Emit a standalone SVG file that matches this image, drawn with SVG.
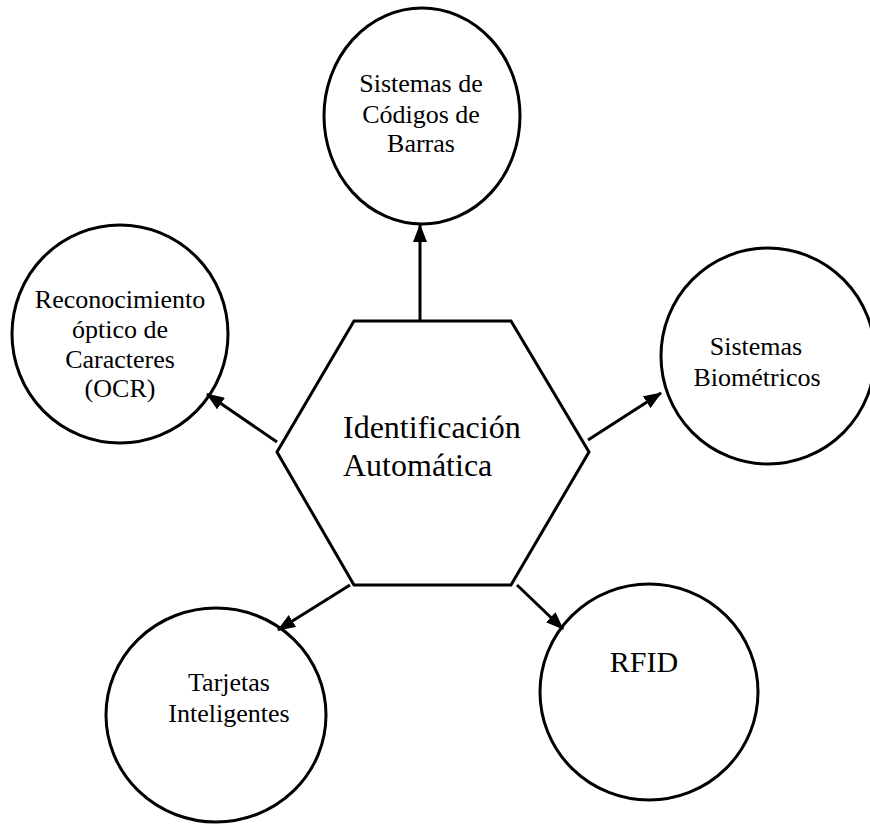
<svg xmlns="http://www.w3.org/2000/svg" width="870" height="825" viewBox="0 0 870 825">
<style>
.node{fill:#fff;stroke:#000;stroke-width:3}
.lbl{font-family:"Liberation Serif","Times New Roman",serif;font-size:26px;fill:#000;text-anchor:middle}
.big{font-family:"Liberation Serif","Times New Roman",serif;font-size:32px;fill:#000}
.conn{stroke:#000;stroke-width:3;fill:none;marker-end:url(#ah)}
</style>
<defs>
<marker id="ah" markerUnits="userSpaceOnUse" markerWidth="18" markerHeight="14" refX="17" refY="7" orient="auto">
<path d="M0,0 L18,7 L0,14 z" fill="#000"/>
</marker>
</defs>
<rect width="870" height="825" fill="#fff"/>
<g id="barras">
<ellipse class="node" cx="422" cy="116" rx="98" ry="108"/>
<text class="lbl" x="421" y="92">Sistemas de</text>
<text class="lbl" x="421" y="123">Códigos de</text>
<text class="lbl" x="421" y="152">Barras</text>
</g>
<g id="ocr">
<ellipse class="node" cx="120" cy="334" rx="108" ry="109"/>
<text class="lbl" x="120" y="308">Reconocimiento</text>
<text class="lbl" x="120" y="338">óptico de</text>
<text class="lbl" x="120" y="368">Caracteres</text>
<text class="lbl" x="120" y="397">(OCR)</text>
</g>
<g id="biometricos">
<ellipse class="node" cx="768" cy="356" rx="107" ry="108"/>
<text class="lbl" x="756" y="355">Sistemas</text>
<text class="lbl" x="757" y="386">Biométricos</text>
</g>
<g id="tarjetas">
<ellipse class="node" cx="216" cy="715" rx="110" ry="107"/>
<text class="lbl" x="229" y="691">Tarjetas</text>
<text class="lbl" x="229" y="722">Inteligentes</text>
</g>
<g id="rfid">
<ellipse class="node" cx="649" cy="692" rx="109" ry="108"/>
<text class="lbl" x="644" y="672" style="font-size:30px">RFID</text>
</g>
<g id="centro">
<polygon class="node" points="354,321 511,321 589,452 511,585 354,585 277,452"/>
<text class="big" x="343" y="438">Identificación</text>
<text class="big" x="343" y="476">Automática</text>
</g>
<g id="connectors">
<line class="conn" x1="420" y1="320" x2="420" y2="225"/>
<line class="conn" x1="277" y1="442" x2="207" y2="394"/>
<line class="conn" x1="588" y1="440" x2="661" y2="393"/>
<line class="conn" x1="350" y1="585" x2="278" y2="630"/>
<line class="conn" x1="517" y1="585" x2="563" y2="629"/>
</g>
</svg>
